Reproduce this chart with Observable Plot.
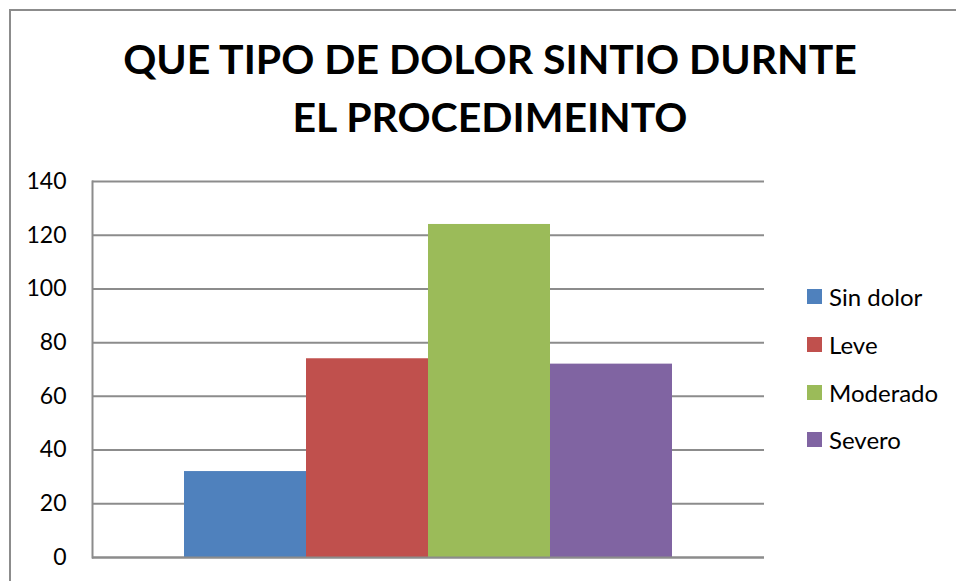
<!DOCTYPE html>
<html>
<head>
<meta charset="utf-8">
<script src="https://cdn.jsdelivr.net/npm/d3@7"></script>
<script src="https://cdn.jsdelivr.net/npm/@observablehq/plot@0.6"></script>
<style>
  html, body { margin: 0; padding: 0; background: #fff; }
  #wrap { position: relative; width: 956px; height: 581px; overflow: hidden; font-family: Lato, "Open Sans", sans-serif; }
  #frame { position: absolute; left: 9px; top: 9px; width: 1000px; height: 700px; border: 2px solid #8c8c8c; box-sizing: border-box; }
  #title { position: absolute; left: 0; top: 30px; width: 980px; text-align: center; font-weight: bold; font-size: 41px; line-height: 58px; color: #000; }
  #chart { position: absolute; left: 0; top: 0; }
  #legend { position: absolute; left: 807px; top: 273px; }
  .item { display: flex; align-items: center; height: 47.7px; font-size: 24px; color: #000; }
  .sw { width: 15px; height: 15px; margin-right: 7px; }
</style>
</head>
<body>
<div id="wrap">
  <div id="frame"></div>
  <div id="chart"></div>
  <div id="title">QUE TIPO DE DOLOR SINTIO DURNTE<br>EL PROCEDIMEINTO</div>
  <div id="legend"></div>
</div>
<script>
const categories = ["Sin dolor", "Leve", "Moderado", "Severo"];
const values = [32, 74, 124, 72];
const colors = ["#4F81BD", "#C0504D", "#9BBB59", "#8064A2"];
const yTicks = [0, 20, 40, 60, 80, 100, 120, 140];

const data = categories.map((c, i) => ({cat: c, value: values[i]}));

const chart = Plot.plot({
  width: 956,
  height: 581,
  marginTop: 181,
  marginBottom: 24,
  marginLeft: 92,
  marginRight: 192,
  style: {fontFamily: "Lato, 'Open Sans', sans-serif", fontSize: "23px", color: "#000", background: "transparent", overflow: "visible"},
  x: {domain: categories, padding: 0, insetLeft: 92, insetRight: 92, axis: null},
  y: {domain: [0, 140], ticks: yTicks},
  color: {domain: categories, range: colors},
  marks: [
    Plot.ruleY(yTicks, {stroke: "#8c8c8c", strokeWidth: 2}),
    Plot.barY(data, {x: "cat", y: "value", fill: "cat"}),
    Plot.ruleY([0], {stroke: "#8c8c8c", strokeWidth: 2}),
    Plot.frame({anchor: "left", stroke: "#8c8c8c", strokeWidth: 2}),
    Plot.axisY({ticks: yTicks, tickSize: 0, tickPadding: 26, fontSize: 23, label: null})
  ]
});
document.getElementById("chart").appendChild(chart);

const legend = document.getElementById("legend");
categories.forEach((c, i) => {
  const item = document.createElement("div");
  item.className = "item";
  const sw = document.createElement("div");
  sw.className = "sw";
  sw.style.background = colors[i];
  const t = document.createElement("span");
  t.textContent = c;
  item.appendChild(sw);
  item.appendChild(t);
  legend.appendChild(item);
});
</script>
</body>
</html>
